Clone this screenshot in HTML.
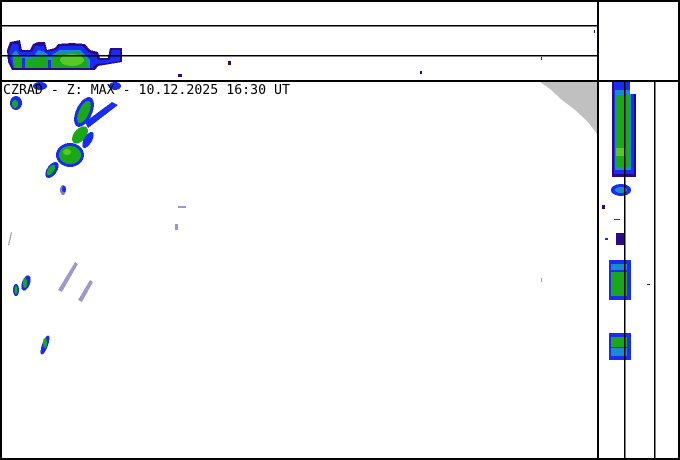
<!DOCTYPE html>
<html><head><meta charset="utf-8"><style>
html,body{margin:0;padding:0;background:#fff;width:680px;height:460px;overflow:hidden}
svg{display:block}
</style></head><body>
<svg width="680" height="460" viewBox="0 0 680 460" xmlns="http://www.w3.org/2000/svg" shape-rendering="crispEdges">
<rect width="680" height="460" fill="#fff"/>
<!-- grey corner -->
<polygon points="540,82 598,82 598,135 587,121 575,110 562,100 550,89" fill="#c0c0c0"/>
<!-- top strip echoes -->
<g>
<path d="M7,50 L10,42 L20,40 L22,50 L30,50 L33,44 L38,42 L45,42 L47,50 L55,48 L58,44 L72,43 L85,44 L90,50 L98,52 L100,58 L108,58 L110,48 L122,48 L122,62 L110,64 L98,66 L95,70 L12,70 L8,62 Z" fill="#2a0a8a"/>
<path d="M9,52 L12,44 L18,44 L20,52 L32,52 L35,46 L44,46 L46,52 L56,50 L60,46 L82,46 L88,52 L96,55 L98,60 L110,60 L112,50 L120,50 L120,61 L108,63 L96,64 L92,68 L13,68 L10,60 Z" fill="#1a2cf0"/>
<path d="M12,54 L16,50 L20,56 L34,56 L38,50 L44,52 L50,56 L60,50 L80,50 L86,56 L90,60 L90,68 L14,68 Z" fill="#1a8ad0"/>
<path d="M14,58 L18,56 L22,60 L36,58 L42,56 L50,60 L58,54 L78,52 L86,58 L88,68 L14,68 Z" fill="#18a818"/>
<ellipse cx="72" cy="60" rx="12" ry="6" fill="#58c828"/>
<rect x="22" y="58" width="3" height="10" fill="#1a2cf0"/>
<rect x="48" y="60" width="3" height="8" fill="#1a2cf0"/>
<rect x="228" y="61" width="3" height="4" fill="#2a0a8a"/>
<rect x="178" y="74" width="4" height="3" fill="#2a0a8a"/>
<rect x="420" y="71" width="2" height="3" fill="#2a0a8a"/>
<rect x="541" y="57" width="1" height="3" fill="#2a0a8a"/>
<rect x="594" y="30" width="1" height="3" fill="#2a0a8a"/>
</g>
<!-- main map echoes -->
<g>
<ellipse cx="16" cy="103" rx="6" ry="7" fill="#1a2cf0"/>
<ellipse cx="15" cy="104" rx="3" ry="4" fill="#18a818"/>
<ellipse cx="40" cy="86" rx="7" ry="4" fill="#1a2cf0"/>
<ellipse cx="115" cy="86" rx="6" ry="4" fill="#1a2cf0"/>
<ellipse cx="84" cy="112" rx="8" ry="16" fill="#1a2cf0" transform="rotate(25 84 112)"/>
<ellipse cx="84" cy="112" rx="5" ry="12" fill="#18a818" transform="rotate(25 84 112)"/>
<path d="M88,128 L118,105 L112,102 L85,122 Z" fill="#1a2cf0"/>
<ellipse cx="80" cy="135" rx="6" ry="10" fill="#18a818" transform="rotate(40 80 135)"/>
<ellipse cx="70" cy="155" rx="14" ry="12" fill="#1a2cf0"/>
<ellipse cx="70" cy="155" rx="11" ry="9" fill="#18a818"/>
<ellipse cx="67" cy="152" rx="4" ry="3" fill="#58c828"/>
<ellipse cx="88" cy="140" rx="4" ry="9" fill="#1a2cf0" transform="rotate(30 88 140)"/>
<ellipse cx="52" cy="170" rx="5" ry="9" fill="#1a2cf0" transform="rotate(35 52 170)"/>
<ellipse cx="51" cy="170" rx="3" ry="6" fill="#18a818" transform="rotate(35 51 170)"/>
<ellipse cx="63" cy="190" rx="3" ry="5" fill="#8080c0"/>
<ellipse cx="64" cy="189" rx="2" ry="3" fill="#1a2cf0"/>
<ellipse cx="26" cy="283" rx="4" ry="8" fill="#1a2cf0" transform="rotate(20 26 283)"/>
<ellipse cx="25" cy="283" rx="2" ry="5" fill="#18a818"/>
<ellipse cx="16" cy="290" rx="3" ry="6" fill="#1a2cf0"/>
<ellipse cx="16" cy="290" rx="1.5" ry="4" fill="#18a818"/>
<ellipse cx="45" cy="345" rx="3" ry="10" fill="#1a2cf0" transform="rotate(20 45 345)"/>
<ellipse cx="45" cy="343" rx="2" ry="5" fill="#18a818"/>
<path d="M58,290 L75,262 L78,264 L62,292 Z" fill="#a098c8"/>
<path d="M78,300 L90,280 L93,282 L82,302 Z" fill="#a098c8"/>
<path d="M8,245 L11,232 L12,233 L9,246 Z" fill="#a098c8"/>
<rect x="178" y="206" width="8" height="2" fill="#a098c8"/>
<rect x="175" y="224" width="3" height="6" fill="#a098c8"/>
<rect x="541" y="278" width="1" height="4" fill="#a098c8"/>
</g>
<!-- right column echoes -->
<g>
<rect x="612" y="82" width="24" height="95" fill="#2a0a8a"/>
<rect x="614" y="82" width="20" height="92" fill="#1a2cf0"/>
<rect x="615" y="90" width="16" height="80" fill="#1a8ad0"/>
<rect x="615" y="95" width="15" height="72" fill="#18a818"/>
<rect x="616" y="148" width="10" height="8" fill="#58c828"/>
<rect x="630" y="82" width="10" height="12" fill="#fff"/>
<ellipse cx="621" cy="190" rx="10" ry="6" fill="#1a2cf0"/>
<ellipse cx="621" cy="190" rx="6" ry="3" fill="#1a8ad0"/>
<rect x="602" y="205" width="3" height="4" fill="#2a0a8a"/>
<rect x="614" y="219" width="6" height="1" fill="#1a2cf0"/>
<rect x="616" y="233" width="9" height="12" fill="#2a0a8a"/>
<rect x="605" y="238" width="3" height="2" fill="#1a2cf0"/>
<rect x="609" y="260" width="22" height="40" fill="#1a2cf0"/>
<rect x="611" y="272" width="16" height="24" fill="#18a818"/>
<rect x="611" y="264" width="16" height="6" fill="#1a8ad0"/>
<rect x="609" y="333" width="22" height="27" fill="#1a2cf0"/>
<rect x="611" y="337" width="16" height="10" fill="#18a818"/>
<rect x="611" y="348" width="16" height="8" fill="#1a8ad0"/>
<rect x="647" y="284" width="3" height="1" fill="#2a0a8a"/>
</g>
<!-- frame lines -->
<g stroke="#000" stroke-width="2" fill="none">
<rect x="1" y="1" width="678" height="458"/>
<line x1="0" y1="81" x2="680" y2="81"/>
<line x1="598" y1="0" x2="598" y2="460"/>
</g>
<g stroke="#000" stroke-width="1.5" fill="none">
<line x1="0" y1="25.5" x2="598" y2="25.5"/>
<line x1="0" y1="55.5" x2="598" y2="55.5"/>
<line x1="624.5" y1="81" x2="624.5" y2="460"/>
<line x1="654.5" y1="81" x2="654.5" y2="460"/>
</g>
<text x="3" y="94" font-family="'DejaVu Sans Mono','Liberation Mono',monospace" font-size="13" fill="#000" textLength="287" lengthAdjust="spacingAndGlyphs">CZRAD - Z: MAX - 10.12.2025 16:30 UT</text>
</svg>
</body></html>
